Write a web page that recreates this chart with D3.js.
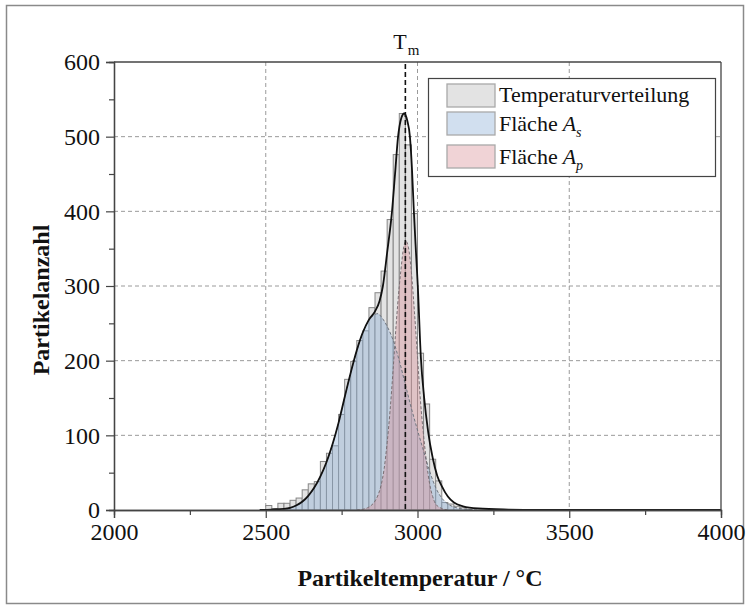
<!DOCTYPE html>
<html>
<head>
<meta charset="utf-8">
<script src="https://cdn.jsdelivr.net/npm/d3@7"></script>
<style>
  body { margin: 0; background: #fff; }
  svg text { font-family: "Liberation Serif", "Times New Roman", serif; fill: #111; }
</style>
</head>
<body>
<svg id="chart" width="749" height="609"></svg>
<script>
// Histogram: lower bin edges (°C), bin width and particle counts
const binStarts = [2500, 2520, 2540, 2560, 2580, 2600, 2620, 2640, 2660, 2680,
                   2700, 2720, 2740, 2760, 2780, 2800, 2820, 2840, 2860, 2880,
                   2900, 2920, 2940, 2960, 2980, 3000, 3020, 3040, 3060, 3080,
                   3100, 3120, 3140, 3160];
const binWidth = 20;
const binCounts = [6, 2, 9, 9, 13, 16, 27, 35, 38, 65,
                   76, 86, 128, 175, 199, 227, 240, 271, 291, 320,
                   389, 476, 531, 489, 397, 210, 142, 68, 39, 10,
                   8, 5, 3, 1];

// Total fit curve (Temperaturverteilung)
const fitTemps  = [2480, 2520, 2560, 2580, 2600, 2620, 2640, 2660, 2680, 2700,
                   2720, 2740, 2760, 2780, 2800, 2820, 2840, 2860, 2875, 2886,
                   2900, 2916, 2926, 2936, 2946, 2956, 2966, 2975, 2982, 2988,
                   2995, 3001, 3011, 3022, 3035, 3050, 3065, 3080, 3100, 3120,
                   3150, 3200, 3300, 3400, 4000];
const fitCounts = [0, 0.5, 1.5, 3, 6, 11, 19, 30, 45, 64,
                   88, 117, 151, 184, 214, 238, 255, 266, 280, 300,
                   345, 400, 450, 500, 524, 531, 522, 500, 455, 400,
                   345, 300, 205, 150, 105, 70, 46, 32, 18, 10,
                   5, 2, 0.5, 0, 0];

// Component A_s
const asTemps  = [2540, 2560, 2580, 2600, 2620, 2640, 2660, 2680, 2700, 2720,
                  2740, 2760, 2780, 2800, 2820, 2840, 2860, 2870, 2880, 2900,
                  2920, 2940, 2960, 2980, 3000, 3020, 3040, 3060, 3080, 3100,
                  3120, 3140, 3160, 3200];
const asCounts = [0, 1, 3, 6, 11, 19, 30, 45, 64, 88,
                  117, 151, 184, 213, 238, 254, 262, 263, 259, 246,
                  227, 200, 168, 136, 107, 79, 52, 30, 16, 8,
                  4, 2, 1, 0];

// Component A_p
const apTemps  = [2800, 2820, 2840, 2860, 2870, 2880, 2890, 2900, 2910, 2920,
                  2930, 2940, 2945, 2955, 2962, 2970, 2980, 2990, 3000, 3010,
                  3020, 3030, 3040, 3050, 3060, 3080, 3100];
const apCounts = [0, 1, 4, 12, 20, 33, 55, 90, 135, 190,
                  250, 300, 320, 353, 360, 352, 318, 265, 205, 145,
                  100, 63, 35, 18, 8, 2, 0];

const tmValue = 2960;
const xTicks = [2000, 2500, 3000, 3500, 4000];
const xMinorTicks = [2250, 2750, 3250, 3750];
const yTicks = [0, 100, 200, 300, 400, 500, 600];
const yMinorTicks = [50, 150, 250, 350, 450, 550];
const xGrid = [2500, 3000, 3500];
const yGrid = [100, 200, 300, 400, 500];
const legendItems = ["Temperaturverteilung", "Fläche", "Fläche"];
const legendSymbols = [null, ["A", "s"], ["A", "p"]];

const serif = '"Liberation Serif", "Times New Roman", serif';
const svg = d3.select("#chart");
const plotLeft = 114, plotRight = 721, plotTop = 62, plotBottom = 510;
const x = d3.scaleLinear().domain([2000, 4000]).range([plotLeft, plotRight]);
const y = d3.scaleLinear().domain([0, 600]).range([plotBottom, plotTop]);

// outer frame
svg.append("rect").attr("x", 6.5).attr("y", 5.5).attr("width", 737).attr("height", 598)
  .attr("fill", "none").attr("stroke", "#8a8a8a").attr("stroke-width", 1.5);

// dashed grid
const grid = svg.append("g").attr("stroke", "#9a9a9a").attr("stroke-width", 1)
  .attr("stroke-dasharray", "4,3").attr("fill", "none");
grid.selectAll(".gx").data(xGrid).join("line")
  .attr("x1", d => x(d)).attr("x2", d => x(d)).attr("y1", plotTop).attr("y2", plotBottom);
grid.selectAll(".gy").data(yGrid).join("line")
  .attr("x1", plotLeft).attr("x2", plotRight).attr("y1", d => y(d)).attr("y2", d => y(d));

// histogram bars
svg.append("g").selectAll("rect").data(binStarts).join("rect")
  .attr("x", d => x(d))
  .attr("width", d => x(d + binWidth) - x(d))
  .attr("y", (d, i) => y(binCounts[i]))
  .attr("height", (d, i) => y(0) - y(binCounts[i]))
  .attr("fill", "#e3e3e3").attr("stroke", "#868686").attr("stroke-width", 1);

const area = (ts, cs) => d3.area()
  .x((d, i) => x(ts[i])).y0(y(0)).y1((d, i) => y(cs[i]))
  .curve(d3.curveMonotoneX)(ts);
const line = (ts, cs) => d3.line()
  .x((d, i) => x(ts[i])).y((d, i) => y(cs[i]))
  .curve(d3.curveMonotoneX)(ts);

// component areas
svg.append("path").attr("d", area(asTemps, asCounts))
  .attr("fill", "rgb(140,175,215)").attr("fill-opacity", 0.4);
svg.append("path").attr("d", area(apTemps, apCounts))
  .attr("fill", "rgb(217,145,152)").attr("fill-opacity", 0.4);
svg.append("path").attr("d", line(asTemps, asCounts))
  .attr("fill", "none").attr("stroke", "#6f7680").attr("stroke-width", 1).attr("stroke-dasharray", "3,2");
svg.append("path").attr("d", line(apTemps, apCounts))
  .attr("fill", "none").attr("stroke", "#7a6f74").attr("stroke-width", 1).attr("stroke-dasharray", "3,2");

// T_m marker
svg.append("line").attr("x1", x(tmValue)).attr("x2", x(tmValue)).attr("y1", plotTop + 2).attr("y2", plotBottom)
  .attr("stroke", "#111").attr("stroke-width", 1.6).attr("stroke-dasharray", "5,3");
const tmLabel = svg.append("text").attr("x", x(tmValue) - 12).attr("y", 49)
  .style("font-family", serif).style("font-size", "22px");
tmLabel.append("tspan").text("T");
tmLabel.append("tspan").style("font-size", "15px").attr("dy", 6).attr("dx", 1).text("m");

// total fit curve
svg.append("path").attr("d", line(fitTemps, fitCounts))
  .attr("fill", "none").attr("stroke", "#111").attr("stroke-width", 1.8);

// plot frame
svg.append("line").attr("x1", plotLeft).attr("x2", plotRight).attr("y1", plotTop).attr("y2", plotTop)
  .attr("stroke", "#444").attr("stroke-width", 1.3);
svg.append("line").attr("x1", plotRight).attr("x2", plotRight).attr("y1", plotTop).attr("y2", plotBottom)
  .attr("stroke", "#444").attr("stroke-width", 1.3);

// axes
const styleAxis = g => {
  g.attr("font-family", null).attr("font-size", null);
  g.select(".domain").attr("stroke", "#444").attr("stroke-width", 1.3);
  g.selectAll(".tick line").attr("stroke", "#444").attr("stroke-width", 1.2);
  g.selectAll("text").style("font-family", serif).style("font-size", "24px").attr("fill", "#111");
};
svg.append("g").attr("transform", `translate(0,${plotBottom})`)
  .call(d3.axisBottom(x).tickValues(xMinorTicks).tickSize(5).tickFormat(""))
  .call(styleAxis);
svg.append("g").attr("transform", `translate(${plotLeft},0)`)
  .call(d3.axisLeft(y).tickValues(yMinorTicks).tickSize(5).tickFormat(""))
  .call(styleAxis);
svg.append("g").attr("transform", `translate(0,${plotBottom})`)
  .call(d3.axisBottom(x).tickValues(xTicks).tickSize(8).tickPadding(5).tickFormat(d3.format("d")))
  .call(styleAxis);
svg.append("g").attr("transform", `translate(${plotLeft},0)`)
  .call(d3.axisLeft(y).tickValues(yTicks).tickSize(8).tickPadding(6).tickFormat(d3.format("d")))
  .call(styleAxis);

// axis titles
svg.append("text").attr("x", 420).attr("y", 586)
  .attr("text-anchor", "middle").style("font-family", serif).style("font-size", "24px").style("font-weight", "bold")
  .text("Partikeltemperatur / °C");
svg.append("text").attr("transform", "translate(49,300) rotate(-90)")
  .attr("text-anchor", "middle").style("font-family", serif).style("font-size", "24px").style("font-weight", "bold")
  .text("Partikelanzahl");

// legend
const lg = svg.append("g");
lg.append("rect").attr("x", 428.5).attr("y", 78.5).attr("width", 287).attr("height", 98)
  .attr("fill", "#fff").attr("stroke", "#444").attr("stroke-width", 1.2);
const swatchY = [84, 112, 145];
const textY = [102, 131, 164];
const swatchFill = [["#e3e3e3", 1], ["rgb(140,175,215)", 0.4], ["rgb(217,145,152)", 0.4]];
legendItems.forEach((label, i) => {
  lg.append("rect").attr("x", 447).attr("y", swatchY[i]).attr("width", 48).attr("height", 23)
    .attr("fill", swatchFill[i][0]).attr("fill-opacity", swatchFill[i][1])
    .attr("stroke", "#a9a9a9").attr("stroke-width", 1.3);
  const t = lg.append("text").attr("x", 499).attr("y", textY[i])
    .style("font-family", serif).style("font-size", "22px");
  t.append("tspan").text(label);
  if (legendSymbols[i]) {
    t.append("tspan").style("font-style", "italic").attr("dx", 5).text(legendSymbols[i][0]);
    t.append("tspan").style("font-style", "italic").style("font-size", "14px").attr("dy", 6).text(legendSymbols[i][1]);
  }
});
</script>
</body>
</html>
